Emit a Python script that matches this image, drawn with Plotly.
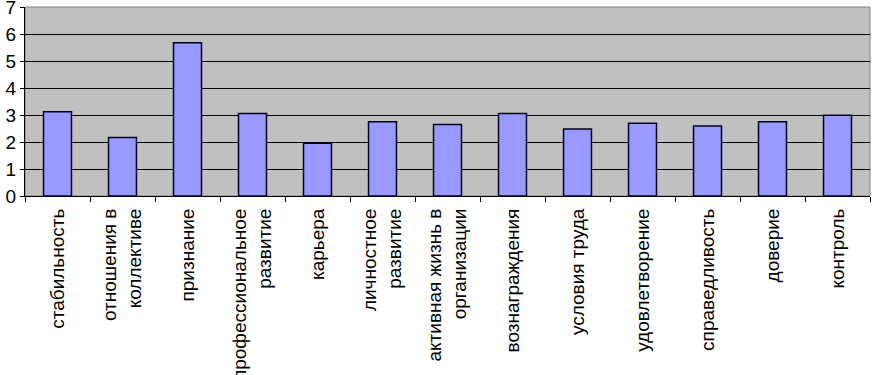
import plotly.graph_objects as go

categories = ["стабильность", "отношения в<br>коллективе", "признание", "профессиональное<br>развитие",
              "карьера", "личностное<br>развитие", "активная жизнь в<br>организации", "вознаграждения",
              "условия труда", "удовлетворение", "справедливость", "доверие", "контроль"]
values = [3.12, 2.17, 5.68, 3.06, 1.95, 2.75, 2.65, 3.06, 2.48, 2.69, 2.59, 2.75, 2.99]
y_ticks = [0, 1, 2, 3, 4, 5, 6, 7]

fig = go.Figure(go.Bar(
    x=categories, y=values,
    marker=dict(color="#9999ff", line=dict(color="#000022", width=1.5)),
    width=0.43,
))

font = dict(family="Liberation Sans, Arial, sans-serif", size=19, color="black")
fig.update_layout(
    width=872, height=375,
    margin=dict(l=25, r=2, t=7, b=179),
    paper_bgcolor="white", plot_bgcolor="#c0c0c0",
    font=font, showlegend=False, bargap=0.57,
)
fig.update_xaxes(
    tickangle=-90, tickson="boundaries", ticks="outside", ticklen=5, tickcolor="black",
    showline=True, linecolor="black", linewidth=1, showgrid=False, tickfont=font,
    automargin=False, ticklabeloverflow="allow", ticklabelstandoff=4,
)
fig.update_yaxes(
    range=[0, 7], tickvals=y_ticks, ticks="outside", ticklen=4, tickcolor="black",
    showline=True, linecolor="black", linewidth=1, showgrid=True, gridcolor="black", gridwidth=1,
    zeroline=False, tickfont=font, automargin=False, ticklabeloverflow="allow",
)
fig.add_shape(type="rect", xref="paper", yref="paper", x0=0, x1=1, y0=0, y1=1,
              line=dict(color="#808080", width=1), layer="below")

fig.write_html("out.html", config={"displayModeBar": False},
               post_script="document.body.style.margin='0';document.body.style.overflow='hidden';")
